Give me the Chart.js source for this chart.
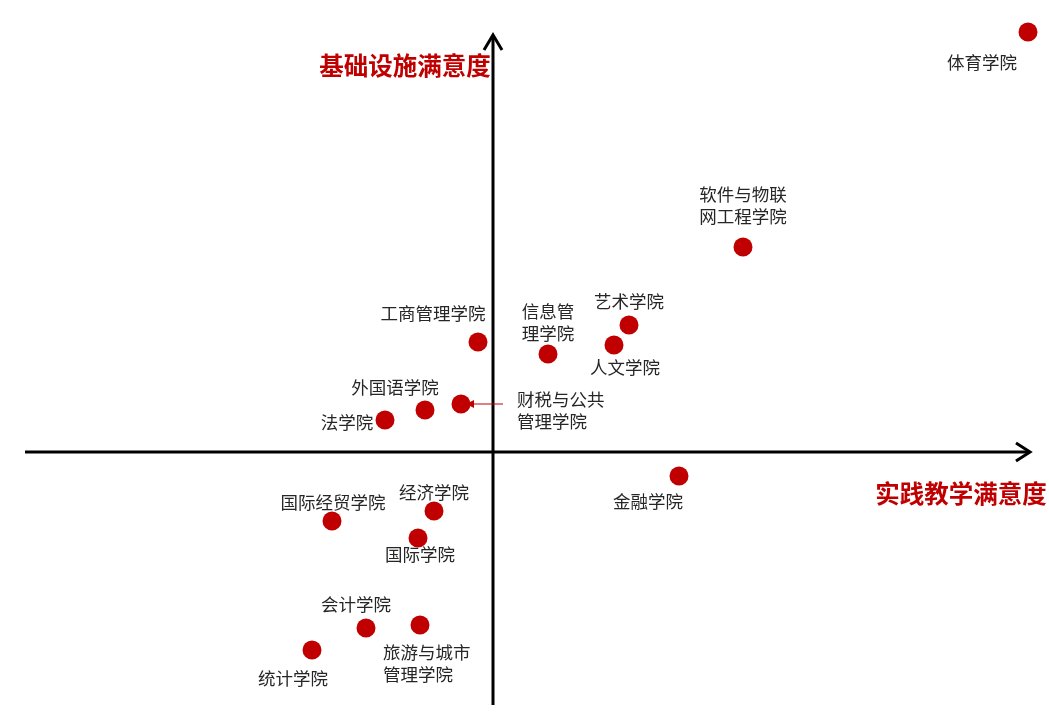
<!DOCTYPE html>
<html>
<head>
<meta charset="utf-8">
<script src="https://cdn.jsdelivr.net/npm/chart.js@4.4.0/dist/chart.umd.min.js"></script>
<style>
  body { margin: 0; background: #fff; }
  #wrap { width: 1049px; height: 725px; position: relative; }
</style>
</head>
<body>
<div id="wrap"><canvas id="quadChart"></canvas></div>
<script>
// 各学院
const colleges = ['体育学院', '软件与物联网工程学院', '艺术学院', '人文学院', '信息管理学院',
  '工商管理学院', '财税与公共管理学院', '外国语学院', '法学院', '金融学院',
  '经济学院', '国际学院', '国际经贸学院', '会计学院', '旅游与城市管理学院', '统计学院'];
// 实践教学满意度 (x), 基础设施满意度 (y) -- 相对原点的偏差
const practiceScore = [53.5, 25.0, 13.6, 12.1, 5.5, -1.5, -3.2, -6.8, -10.8, 18.6, -5.9, -7.5, -16.1, -12.7, -7.3, -18.1];
const facilityScore = [42.0, 20.5, 12.7, 10.7, 9.8, 11.0, 4.8, 4.2, 3.2, -2.4, -5.9, -8.6, -6.9, -17.6, -17.3, -19.8];

const xAxisTitle = '实践教学满意度';
const yAxisTitle = '基础设施满意度';

// label placement (pixels from the point), br = line break index
const labelLayout = [
  { dx: -46, dy: 30 },
  { dx: 0, dy: -53, br: 5 },
  { dx: 0, dy: -24 },
  { dx: 11, dy: 22 },
  { dx: 0, dy: -43, br: 3 },
  { dx: -45, dy: -29 },
  { dx: 56, dy: -5, br: 5, left: true, pointer: true },
  { dx: -30, dy: -23 },
  { dx: -38, dy: 2 },
  { dx: -31, dy: 25 },
  { dx: 0, dy: -19 },
  { dx: 2, dy: 16 },
  { dx: 1, dy: -19 },
  { dx: -10, dy: -24 },
  { dx: -37, dy: 27, br: 5, left: true },
  { dx: -19, dy: 28 }
];

const red = '#c00000';
const labelFont = '17.5px "Noto Sans CJK SC", "Noto Sans", sans-serif';

const points = practiceScore.map((x, i) => ({ x: x, y: facilityScore[i] }));

const quadrantAxes = {
  id: 'quadrantAxes',
  beforeDatasetsDraw(chart) {
    const { ctx, scales: { x, y } } = chart;
    const ox = x.getPixelForValue(0), oy = y.getPixelForValue(0);
    const left = x.getPixelForValue(-46.8), right = x.getPixelForValue(53.7);
    const top = y.getPixelForValue(41.7), bottom = y.getPixelForValue(-25.3);
    ctx.save();
    ctx.strokeStyle = '#000';
    ctx.lineWidth = 3;
    ctx.beginPath();
    ctx.moveTo(left, oy); ctx.lineTo(right, oy);
    ctx.moveTo(ox, bottom); ctx.lineTo(ox, top);
    ctx.stroke();
    ctx.beginPath();
    ctx.moveTo(right - 14, oy - 9); ctx.lineTo(right, oy); ctx.lineTo(right - 14, oy + 9);
    ctx.moveTo(ox - 9, top + 15); ctx.lineTo(ox, top); ctx.lineTo(ox + 9, top + 15);
    ctx.stroke();

    ctx.fillStyle = red;
    ctx.font = 'bold 24.5px "Noto Sans CJK SC", sans-serif';
    ctx.textAlign = 'center';
    ctx.textBaseline = 'middle';
    ctx.fillText(yAxisTitle, ox - 88, top + 31);
    ctx.fillText(xAxisTitle, right - 69, oy + 42);
    ctx.restore();
  },
  afterDatasetsDraw(chart) {
    const { ctx } = chart;
    const meta = chart.getDatasetMeta(0);
    ctx.save();
    ctx.font = labelFont;
    ctx.fillStyle = '#262626';
    ctx.textBaseline = 'middle';
    meta.data.forEach((pt, i) => {
      const lay = labelLayout[i];
      const name = colleges[i];
      const lines = lay.br ? [name.slice(0, lay.br), name.slice(lay.br)] : [name];
      ctx.textAlign = lay.left ? 'left' : 'center';
      lines.forEach((ln, k) => {
        ctx.fillText(ln, pt.x + lay.dx, pt.y + lay.dy + k * 22);
      });
      if (lay.pointer) {
        ctx.save();
        ctx.strokeStyle = red;
        ctx.fillStyle = red;
        ctx.lineWidth = 1;
        ctx.beginPath();
        ctx.moveTo(pt.x + 42, pt.y);
        ctx.lineTo(pt.x + 8, pt.y);
        ctx.stroke();
        ctx.beginPath();
        ctx.moveTo(pt.x + 5, pt.y);
        ctx.lineTo(pt.x + 13, pt.y - 4);
        ctx.lineTo(pt.x + 13, pt.y + 4);
        ctx.closePath();
        ctx.fill();
        ctx.restore();
      }
    });
    ctx.restore();
  }
};

const config = {
  type: 'scatter',
  data: {
    datasets: [{
      label: '学院',
      data: points,
      backgroundColor: red,
      borderColor: red,
      borderWidth: 0,
      pointRadius: 9.5,
      pointHoverRadius: 9.5
    }]
  },
  options: {
    responsive: true,
    maintainAspectRatio: false,
    animation: false,
    layout: { padding: 0, autoPadding: false },
    plugins: { legend: { display: false }, tooltip: { enabled: false } },
    scales: {
      x: { type: 'linear', min: -49.3, max: 55.6, display: false },
      y: { type: 'linear', min: -27.3, max: 45.2, display: false }
    }
  },
  plugins: [quadrantAxes]
};

const myChart = new Chart(document.getElementById('quadChart'), config);
</script>
</body>
</html>
